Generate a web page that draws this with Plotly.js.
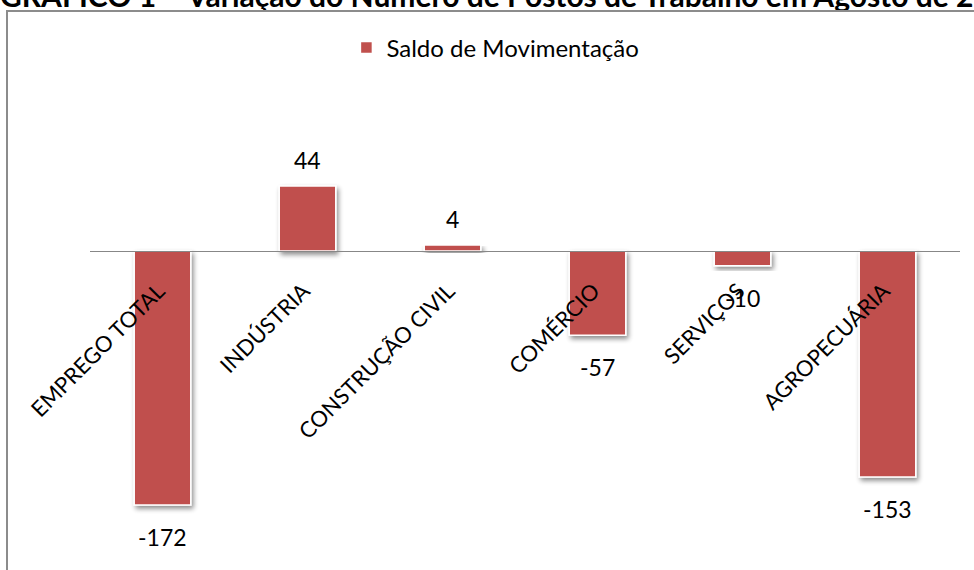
<!DOCTYPE html>
<html>
<head>
<meta charset="utf-8">
<script src="https://cdn.plot.ly/plotly-3.0.1.min.js"></script>
<style>
  html, body { margin: 0; padding: 0; background: #fff; overflow: hidden; }
  #chart { width: 974px; height: 570px; position: relative; }
  #frame { position: absolute; left: 6px; top: 10px; width: 1100px; height: 700px;
           border: 2px solid #8c8c8c; pointer-events: none; }
  .barlayer .point path { filter: url(#barshadow); }
  .gtitle { transform: translateY(-4px); }
</style>
</head>
<body>
<svg width="0" height="0" style="position:absolute">
  <defs>
    <filter id="barshadow" x="-20%" y="-20%" width="150%" height="150%">
      <feGaussianBlur in="SourceAlpha" stdDeviation="2.5"/>
      <feOffset dx="2" dy="3" result="ob"/>
      <feComponentTransfer><feFuncA type="linear" slope="0.45"/></feComponentTransfer>
      <feMerge><feMergeNode/><feMergeNode in="SourceGraphic"/></feMerge>
    </filter>
  </defs>
</svg>
<div id="chart"></div>
<div id="frame"></div>
<script>
const categories = ["EMPREGO TOTAL", "INDÚSTRIA", "CONSTRUÇÃO CIVIL", "COMÉRCIO", "SERVIÇOS", "AGROPECUÁRIA"];
const saldo = [-172, 44, 4, -57, -10, -153];
const seriesName = "Saldo de Movimentação";
const chartTitle = "GRÁFICO 1 – Variação do Número de Postos de Trabalho em Agosto de 2012";

const FONT = "Lato, 'Open Sans', sans-serif";
const yMin = -209.2, yMax = 122.5;

const trace = {
  type: "bar",
  x: categories,
  y: saldo,
  name: seriesName,
  marker: { color: "#C0504D", line: { color: "#ffffff", width: 1.5 } },
  width: 0.39,
  showlegend: true,
  hoverinfo: "none"
};

const annotations = saldo.map((v, i) => ({
  x: categories[i], y: v, xref: "x", yref: "y",
  text: String(v), showarrow: false,
  yshift: v >= 0 ? 26 : -32,
  yanchor: "middle", xanchor: "center",
  font: { family: FONT, size: 23, color: "#000" }
}));

const layout = {
  width: 974, height: 570,
  margin: { l: 90, r: 14, t: 70, b: 10 },
  paper_bgcolor: "#fff", plot_bgcolor: "rgba(0,0,0,0)",
  title: {
    text: "<b>" + chartTitle + "</b>",
    xref: "container", yref: "container",
    x: 0, xanchor: "left", y: 1, yanchor: "middle", pad: { l: 0, r: 0, t: 0, b: 0 },
    font: { family: FONT, size: 30, color: "#000" }
  },
  showlegend: true,
  legend: {
    orientation: "h", x: 0.466, xanchor: "center", y: 1.045, yanchor: "middle",
    font: { family: FONT, size: 24, color: "#000" }, bgcolor: "rgba(0,0,0,0)"
  },
  xaxis: {
    type: "category",
    anchor: "free", position: -yMin / (yMax - yMin),
    showline: true, linecolor: "#878787", linewidth: 1.5,
    showgrid: false, zeroline: false, ticks: "",
    tickangle: -45, ticklabelstandoff: 17, ticklabelshift: -4,
    tickfont: { family: FONT, size: 22, color: "#000" },
    fixedrange: true
  },
  yaxis: {
    range: [yMin, yMax], visible: false, showgrid: false, zeroline: false, fixedrange: true
  },
  annotations: annotations,
  bargap: 0.6
};

Plotly.newPlot("chart", [trace], layout, { displayModeBar: false, staticPlot: true });
</script>
</body>
</html>
